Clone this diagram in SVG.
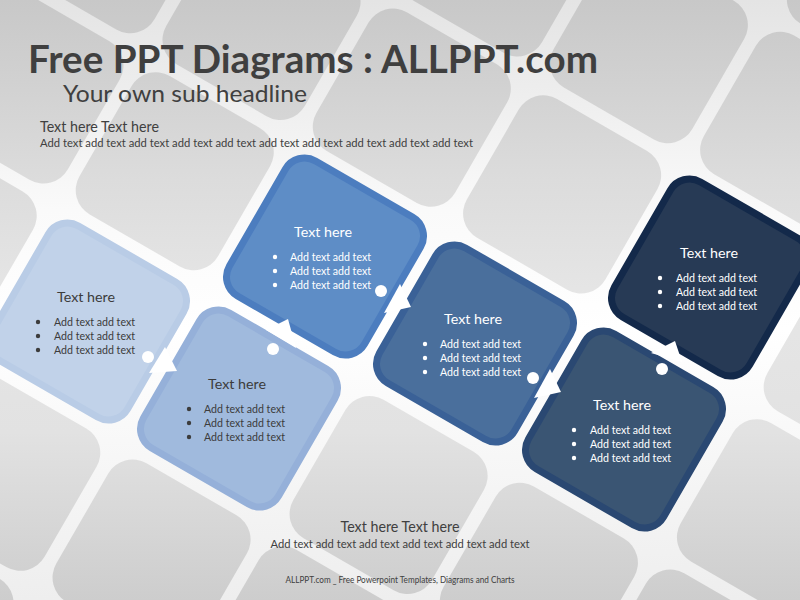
<svg xmlns="http://www.w3.org/2000/svg" xmlns:xlink="http://www.w3.org/1999/xlink" width="800" height="600" viewBox="0 0 800 600">
<defs>
<linearGradient id="gapGrad" gradientUnits="userSpaceOnUse" x1="0" y1="0" x2="0" y2="600">
<stop offset="0" stop-color="#e4e4e4"/><stop offset="0.35" stop-color="#fafafa"/><stop offset="0.55" stop-color="#ffffff"/><stop offset="1" stop-color="#eeeeee"/>
</linearGradient>
<linearGradient id="tileGrad" gradientUnits="userSpaceOnUse" x1="0" y1="0" x2="0" y2="600">
<stop offset="0" stop-color="#c8c8c8"/><stop offset="0.3" stop-color="#dcdcdc"/><stop offset="0.5" stop-color="#e6e6e6"/><stop offset="0.72" stop-color="#e2e2e2"/><stop offset="1" stop-color="#cdcdcd"/>
</linearGradient>
<rect id="tile" x="-80" y="-80" width="160" height="160" rx="28" transform="rotate(30)"/>
<rect id="sq" x="-78" y="-78" width="156" height="156" rx="22" transform="rotate(30)"/>
<mask id="tileMask" maskUnits="userSpaceOnUse" x="0" y="0" width="800" height="600">
<g class="tiles" id="background" fill="#ffffff">
<use xlink:href="#tile" transform="translate(-85.5,622.1)"/>
<use xlink:href="#tile" transform="translate(1.25,471.8)"/>
<use xlink:href="#tile" transform="translate(151.55,558.55)"/>
<use xlink:href="#tile" transform="translate(301.85,645.3)"/>
<use xlink:href="#tile" transform="translate(-62.3,234.75)"/>
<use xlink:href="#tile" transform="translate(388.6,495)"/>
<use xlink:href="#tile" transform="translate(538.9,581.75)"/>
<use xlink:href="#tile" transform="translate(689.2,668.5)"/>
<use xlink:href="#tile" transform="translate(24.45,84.45)"/>
<use xlink:href="#tile" transform="translate(174.75,171.2)"/>
<use xlink:href="#tile" transform="translate(775.95,518.2)"/>
<use xlink:href="#tile" transform="translate(111.2,-65.85)"/>
<use xlink:href="#tile" transform="translate(261.5,20.9)"/>
<use xlink:href="#tile" transform="translate(411.8,107.65)"/>
<use xlink:href="#tile" transform="translate(562.1,194.4)"/>
<use xlink:href="#tile" transform="translate(862.7,367.9)"/>
<use xlink:href="#tile" transform="translate(498.55,-42.65)"/>
<use xlink:href="#tile" transform="translate(648.85,44.1)"/>
<use xlink:href="#tile" transform="translate(799.15,130.85)"/>
<use xlink:href="#tile" transform="translate(885.9,-19.45)"/>
</g>
</mask>
<style>
.node use{stroke-width:7}
.t{font-family:Lato,"Open Sans","Liberation Sans",sans-serif}
.h{font-size:14px;text-anchor:middle}
.b{font-size:11px}
.dark{fill:#3c3c3c}
.light{fill:#ffffff}
.dot{fill:#ffffff}
</style>
</defs>
<rect width="800" height="600" fill="url(#gapGrad)"/>
<rect width="800" height="600" fill="url(#tileGrad)" mask="url(#tileMask)"/>
<g id="titles" class="t">
<text x="28" y="73" font-size="39" font-weight="bold" fill="#3f3f3f" textLength="570" lengthAdjust="spacingAndGlyphs">Free PPT Diagrams : ALLPPT.com</text>
<text x="63" y="102" font-size="24" fill="#404040" textLength="244" lengthAdjust="spacingAndGlyphs">Your own sub headline</text>
<text x="40" y="132" font-size="15" fill="#404040" textLength="119" lengthAdjust="spacingAndGlyphs">Text here Text here</text>
<text x="40" y="147" font-size="12" fill="#404040" textLength="433" lengthAdjust="spacingAndGlyphs">Add text add text add text add text add text add text add text add text add text add text</text>
</g>
<g id="node1" class="node" transform="translate(88,321.5)">
<use xlink:href="#sq" fill="#c1d2e9" stroke="#b9cce6"/>
<text class="t h dark" x="-2" y="-19.5" textLength="58" lengthAdjust="spacingAndGlyphs">Text here</text>
<g class="dark"><circle cx="-50" cy="0.5" r="2.2"/><circle cx="-50" cy="14.5" r="2.2"/><circle cx="-50" cy="28.5" r="2.2"/></g>
<text class="t b dark" x="-34" y="4.5" textLength="81" lengthAdjust="spacingAndGlyphs">Add text add text</text>
<text class="t b dark" x="-34" y="18.5" textLength="81" lengthAdjust="spacingAndGlyphs">Add text add text</text>
<text class="t b dark" x="-34" y="32.5" textLength="81" lengthAdjust="spacingAndGlyphs">Add text add text</text>
</g>
<g id="node2" class="node" transform="translate(239,408.5)">
<use xlink:href="#sq" fill="#a0badd" stroke="#95b0d9"/>
<text class="t h dark" x="-2" y="-19.5" textLength="58" lengthAdjust="spacingAndGlyphs">Text here</text>
<g class="dark"><circle cx="-50" cy="0.5" r="2.2"/><circle cx="-50" cy="14.5" r="2.2"/><circle cx="-50" cy="28.5" r="2.2"/></g>
<text class="t b dark" x="-35" y="4.5" textLength="81" lengthAdjust="spacingAndGlyphs">Add text add text</text>
<text class="t b dark" x="-35" y="18.5" textLength="81" lengthAdjust="spacingAndGlyphs">Add text add text</text>
<text class="t b dark" x="-35" y="32.5" textLength="81" lengthAdjust="spacingAndGlyphs">Add text add text</text>
</g>
<g id="node3" class="node" transform="translate(325,256.5)">
<use xlink:href="#sq" fill="#5e8dc6" stroke="#4c7dbf"/>
<text class="t h light" x="-2" y="-19.5" textLength="58" lengthAdjust="spacingAndGlyphs">Text here</text>
<g class="light"><circle cx="-50" cy="0.5" r="2.2"/><circle cx="-50" cy="14.5" r="2.2"/><circle cx="-50" cy="28.5" r="2.2"/></g>
<text class="t b light" x="-35" y="4.5" textLength="81" lengthAdjust="spacingAndGlyphs">Add text add text</text>
<text class="t b light" x="-35" y="18.5" textLength="81" lengthAdjust="spacingAndGlyphs">Add text add text</text>
<text class="t b light" x="-35" y="32.5" textLength="81" lengthAdjust="spacingAndGlyphs">Add text add text</text>
</g>
<g id="node4" class="node" transform="translate(475,343.5)">
<use xlink:href="#sq" fill="#4a6f9c" stroke="#3a6197"/>
<text class="t h light" x="-2" y="-19.5" textLength="58" lengthAdjust="spacingAndGlyphs">Text here</text>
<g class="light"><circle cx="-50" cy="0.5" r="2.2"/><circle cx="-50" cy="14.5" r="2.2"/><circle cx="-50" cy="28.5" r="2.2"/></g>
<text class="t b light" x="-35" y="4.5" textLength="81" lengthAdjust="spacingAndGlyphs">Add text add text</text>
<text class="t b light" x="-35" y="18.5" textLength="81" lengthAdjust="spacingAndGlyphs">Add text add text</text>
<text class="t b light" x="-35" y="32.5" textLength="81" lengthAdjust="spacingAndGlyphs">Add text add text</text>
</g>
<g id="node5" class="node" transform="translate(624,429.5)">
<use xlink:href="#sq" fill="#3a5573" stroke="#2a4872"/>
<text class="t h light" x="-2" y="-19.5" textLength="58" lengthAdjust="spacingAndGlyphs">Text here</text>
<g class="light"><circle cx="-50" cy="0.5" r="2.2"/><circle cx="-50" cy="14.5" r="2.2"/><circle cx="-50" cy="28.5" r="2.2"/></g>
<text class="t b light" x="-34" y="4.5" textLength="81" lengthAdjust="spacingAndGlyphs">Add text add text</text>
<text class="t b light" x="-34" y="18.5" textLength="81" lengthAdjust="spacingAndGlyphs">Add text add text</text>
<text class="t b light" x="-34" y="32.5" textLength="81" lengthAdjust="spacingAndGlyphs">Add text add text</text>
</g>
<g id="node6" class="node" transform="translate(710,277.5)">
<use xlink:href="#sq" fill="#273a55" stroke="#13294a"/>
<text class="t h light" x="-1" y="-19.5" textLength="58" lengthAdjust="spacingAndGlyphs">Text here</text>
<g class="light"><circle cx="-50" cy="0.5" r="2.2"/><circle cx="-50" cy="14.5" r="2.2"/><circle cx="-50" cy="28.5" r="2.2"/></g>
<text class="t b light" x="-34" y="4.5" textLength="81" lengthAdjust="spacingAndGlyphs">Add text add text</text>
<text class="t b light" x="-34" y="18.5" textLength="81" lengthAdjust="spacingAndGlyphs">Add text add text</text>
<text class="t b light" x="-34" y="32.5" textLength="81" lengthAdjust="spacingAndGlyphs">Add text add text</text>
</g>
<g id="connectors" fill="#ffffff">
<circle class="dot" cx="148" cy="357" r="6"/>
<polygon points="165,347 149,373 177,371"/>
<circle class="dot" cx="273" cy="349" r="6"/>
<polygon points="288,319 266,330 296,348"/>
<circle class="dot" cx="381" cy="291" r="6"/>
<polygon points="400,284 384,313 411,307"/>
<circle class="dot" cx="533" cy="378" r="6"/>
<polygon points="550,369 534,398 561,392"/>
<circle class="dot" cx="662" cy="369" r="6"/>
<polygon points="675,341 651,353 682,362"/>
</g>
<g id="footer" class="t" text-anchor="middle" fill="#404040">
<text x="400" y="532" font-size="15" textLength="119" lengthAdjust="spacingAndGlyphs">Text here Text here</text>
<text x="400" y="548" font-size="12" textLength="259" lengthAdjust="spacingAndGlyphs">Add text add text add text add text add text add text</text>
<text x="400" y="583" font-size="9" textLength="229" lengthAdjust="spacingAndGlyphs">ALLPPT.com _ Free Powerpoint Templates, Diagrams and Charts</text>
</g>
</svg>
